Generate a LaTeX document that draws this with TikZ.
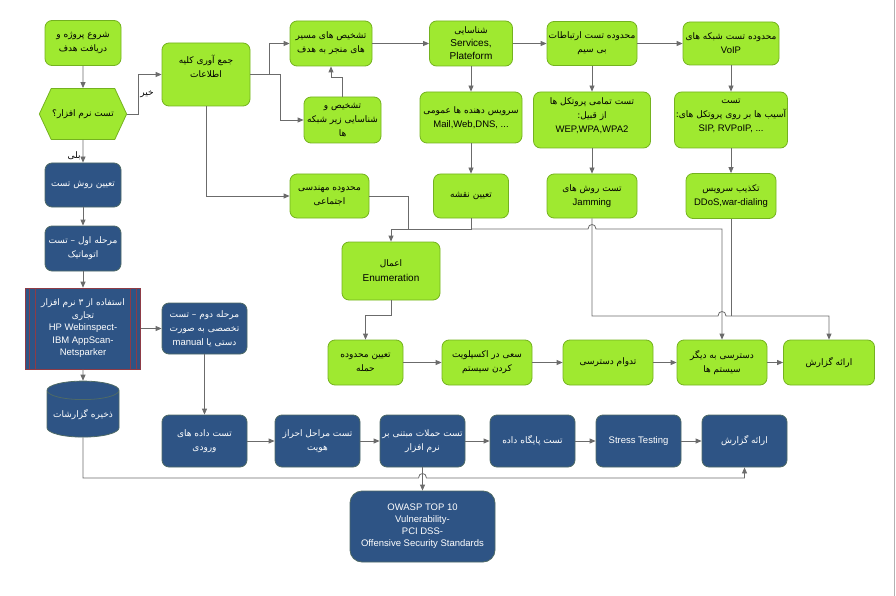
\documentclass[tikz,border=0pt]{standalone}
\usepackage{fontspec}
\setmainfont{Liberation Sans}
\newfontfamily\farsi[Script=Arabic]{DejaVu Sans}
\TeXXeTstate=1
\usepackage{tikz}
\usetikzlibrary{shapes.geometric,shapes.symbols,arrows.meta,calc}
\definecolor{gfill}{HTML}{9FE930}
\definecolor{gline}{HTML}{74B21F}
\definecolor{bfill}{HTML}{2E5485}
\definecolor{bline}{HTML}{4E6A66}
\definecolor{wire}{HTML}{6B6B6B}
\definecolor{tline}{HTML}{8E3B46}
\newcommand{\fa}[1]{{\farsi\fontsize{9}{15}\selectfont\beginR #1\endR}}
\tikzset{
  font={\fontsize{9.5}{14}\selectfont}}
\tikzset{
  gbox/.style={draw=gline, fill=gfill, rounded corners=7, align=center, line width=0.8, inner sep=1},
  bbox/.style={draw=bline, fill=bfill, rounded corners=7, align=center, text=white, line width=0.8, inner sep=1},
  toolbox/.style={draw=tline, fill=bfill, align=center, text=white, line width=0.6,
    path picture={
      \foreach \d in {4,10}{
        \draw[tline, line width=0.6] ([xshift=\d]path picture bounding box.north west) -- ([xshift=\d]path picture bounding box.south west);
        \draw[tline, line width=0.6] ([xshift=-\d]path picture bounding box.north east) -- ([xshift=-\d]path picture bounding box.south east);}}},
  arr/.style={draw=wire, line width=0.8, -{Triangle[length=6,width=5]}},
  wireline/.style={draw=wire, line width=0.8},
  lbl/.style={inner sep=2}
}

\begin{document}
\begin{tikzpicture}[x=1pt,y=-1pt]
\useasboundingbox (0,0) rectangle (896,596);
% left column
\node[gbox, minimum width=76, minimum height=45] (start) at (83,43) {\fa{شروع پروژه و}\\\fa{دریافت هدف}};
\node[gbox, signal, signal to=east and west, signal pointer angle=130, sharp corners, minimum width=85, minimum height=51] (quiz) at (83,114) {\fa{تست نرم افزار؟}};
\node[bbox, minimum width=76, minimum height=44] (method) at (83,185) {\fa{تعیین روش تست}};
\node[bbox, minimum width=76, minimum height=45] (auto) at (83,248.5) {\fa{مرحله اول – تست}\\\fa{اتوماتیک}};
\node[toolbox, minimum width=115, minimum height=81, font={\fontsize{9.5}{12.5}\selectfont}] (tools) at (83,328.5) {\fa{استفاده از ۳ نرم افزار}\\\fa{تجاری}\\HP Webinspect-\\IBM AppScan-\\Netsparker};
\node[bbox, cylinder, shape border rotate=90, aspect=0.3, sharp corners, minimum width=72, minimum height=56] (store) at (83,415) {\fa{ذخیره گزارشات}};
\node[bbox, minimum width=85, minimum height=51] (manual) at (204.5,328.5) {\fa{مرحله دوم – تست}\\\fa{تخصصی به صورت}\\manual \fa{دستی یا}};
% bottom blue row
\node[bbox, minimum width=85, minimum height=52] (input) at (204.5,441) {\fa{تست داده های}\\\fa{ورودی}};
\node[bbox, minimum width=85, minimum height=52] (auth) at (317.5,441) {\fa{تست مراحل احراز}\\\fa{هویت}};
\node[bbox, minimum width=85, minimum height=52] (appatk) at (422.5,441) {\fa{تست حملات مبتنی بر}\\\fa{نرم افزار}};
\node[bbox, minimum width=85, minimum height=52] (db) at (532.5,441) {\fa{تست پایگاه داده}};
\node[bbox, minimum width=85, minimum height=52] (stress) at (638.5,441) {Stress Testing};
\node[bbox, minimum width=85, minimum height=52] (breport) at (744.5,441) {\fa{ارائه گزارش}};
\node[bbox, minimum width=145, minimum height=71, rounded corners=12, font={\fontsize{9.5}{12}\selectfont}] (owasp) at (422.5,526.5) {OWASP TOP 10\\Vulnerability-\\PCI DSS-\\Offensive Security Standards};
% green part
\node[gbox, minimum width=88, minimum height=63, text depth=16] (collect) at (206,74.5) {\fa{جمع آوری کلیه}\\\fa{اطلاعات}};
\node[gbox, minimum width=82, minimum height=45] (route) at (331,43.5) {\fa{تشخیص های مسیر}\\\fa{های منجر به هدف}};
\node[gbox, minimum width=77, minimum height=46] (subnet) at (342.5,120) {\fa{تشخیص و}\\\fa{شناسایی زیر شبکه}\\\fa{ها}};
\node[gbox, minimum width=83, minimum height=45, font={\fontsize{10}{13}\selectfont}] (serv) at (471,43.5) {\fa{شناسایی}\\Services,\\Plateform};
\node[gbox, minimum width=90, minimum height=44] (wless) at (592,43.5) {\fa{محدوده تست ارتباطات}\\\fa{بی سیم}};
\node[gbox, minimum width=96, minimum height=43] (voip) at (731,43.5) {\fa{محدوده تست شبکه های}\\VoIP};
\node[gbox, minimum width=102, minimum height=51] (mail) at (471,117.5) {\fa{سرویس دهنده ها عمومی}\\Mail,Web,DNS, ...};
\node[gbox, minimum width=117, minimum height=56, text depth=10] (proto) at (592,120) {\fa{تست تمامی پروتکل ها}\\\fa{از قبیل:}\\WEP,WPA,WPA2};
\node[gbox, minimum width=113, minimum height=56, text depth=10] (vuln) at (731,120) {\fa{تست}\\\fa{آسیب ها بر روی پروتکل های:}\\SIP, RVPoIP, ...};
\node[gbox, minimum width=79, minimum height=44] (social) at (329.5,196) {\fa{محدوده مهندسی}\\\fa{اجتماعی}};
\node[gbox, minimum width=75, minimum height=44] (map) at (471,196) {\fa{تعیین نقشه}};
\node[gbox, minimum width=90, minimum height=44] (jam) at (592,196) {\fa{تست روش های}\\Jamming};
\node[gbox, minimum width=90, minimum height=45] (ddos) at (731,196) {\fa{تکذیب سرویس}\\DDoS,war-dialing};
\node[gbox, minimum width=98, minimum height=58, font={\fontsize{10}{15}\selectfont}] (enum) at (391,271) {\fa{اعمال}\\Enumeration};
\node[gbox, minimum width=75, minimum height=45] (attack) at (365.5,362.5) {\fa{تعیین محدوده}\\\fa{حمله}};
\node[gbox, minimum width=90, minimum height=45] (exploit) at (487,362.5) {\fa{سعی در اکسپلویت}\\\fa{کردن سیستم}};
\node[gbox, minimum width=90, minimum height=45] (persist) at (608,362.5) {\fa{تدوام دسترسی}};
\node[gbox, minimum width=90, minimum height=45] (reach) at (722,362.5) {\fa{دسترسی به دیگر}\\\fa{سیستم ها}};
\node[gbox, minimum width=91, minimum height=45] (report) at (829,362.5) {\fa{ارائه گزارش}};
% connectors
\draw[arr] (start) -- (quiz);
\draw[arr] (quiz.east) -- ++(11,0) |- (collect.west) node[lbl, pos=0.25, right] {\fa{خیر}};
\draw[arr] (quiz) -- (method) node[lbl, pos=0.7, left] {\fa{بلی}};
\draw[arr] (method) -- (auto);
\draw[arr] (auto) -- (tools);
\draw[arr] (tools) -- (store);
\draw[arr] (tools) -- (manual);
\draw[arr] (manual) -- (input);
\draw[arr] (input) -- (auth);
\draw[arr] (auth) -- (appatk);
\draw[arr] (appatk) -- (db);
\draw[arr] (db) -- (stress);
\draw[arr] (stress) -- (breport);
\draw[arr] (appatk) -- (owasp);
\coordinate (base) at (83,478);
\draw[arr] (store.south) -- (base) -- ($(appatk.south |- base)+(-4,0)$) .. controls +(0,-6) and +(0,-6) .. ($(appatk.south |- base)+(4,0)$) -| (breport.south);
\draw[arr] (collect.east) -- ++(19,0) |- (route.west);
\draw[arr] (collect.east) -- ++(30,0) |- (subnet.west);
\draw[arr] (collect.south) |- (social.west);
\draw[arr] (subnet.north) -- ++(0,-19) -| (route.south);
\draw[arr] (route) -- (serv);
\draw[arr] (serv) -- (wless);
\draw[arr] (wless) -- (voip);
\draw[arr] (serv) -- (mail);
\draw[arr] (mail) -- (map);
\draw[arr] (wless) -- (proto);
\draw[arr] (proto) -- (jam);
\draw[arr] (voip) -- (vuln);
\draw[arr] (vuln) -- (ddos);
\coordinate (bus) at (408,229);
\draw[wireline] (social.east) -| (bus);
\draw[arr] (map.south) -- (map.south |- bus) -| (enum.north);
\draw[arr] (map.south |- bus) -- ($(jam.south |- bus)+(-4,0)$) .. controls +(0,-6) and +(0,-6) .. ($(jam.south |- bus)+(4,0)$) -| (reach.north);
\coordinate (low) at (731,316);
\draw[arr] (jam.south) |- ($(reach.north |- low)+(-4,0)$) .. controls +(0,-6) and +(0,-6) .. ($(reach.north |- low)+(4,0)$) -| (report.north);
\draw[wireline] (ddos.south) -- (low);
\draw[arr] (enum.south) -- ++(0,15) -| (attack.north);
\draw[arr] (attack) -- (exploit);
\draw[arr] (exploit) -- (persist);
\draw[arr] (persist) -- (reach);
\draw[arr] (reach) -- (report);
\draw[gray!60] (894,0) -- (894,596);
\end{tikzpicture}
\end{document}
